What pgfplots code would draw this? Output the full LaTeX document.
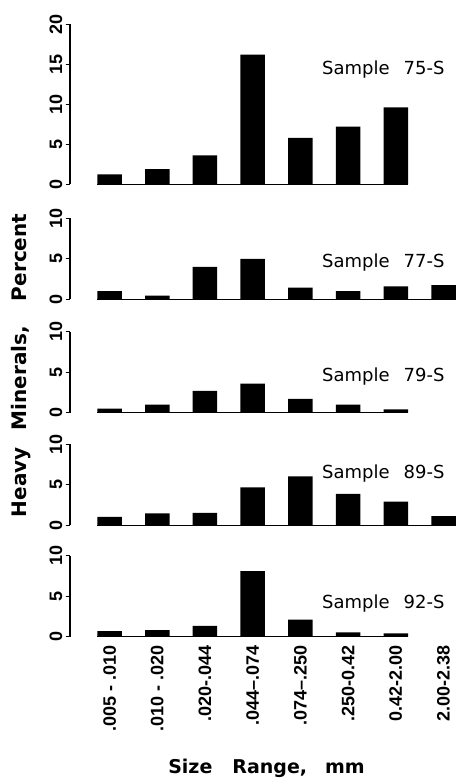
\documentclass[border=0pt]{standalone}
\usepackage{fontspec}
\setmainfont{DejaVu Sans}
\newfontfamily\tickfont{Liberation Sans}
\usepackage{pgfplots}
\pgfplotsset{compat=1.18}
\newcommand\lab[1]{{\tickfont\bfseries\fontsize{18}{18}\selectfont #1}}
\pgfplotsset{
  panel/.style={
    anchor=south west,
    x=47.7pt, xmin=-0.83, xmax=7.6, ymin=0,
    axis y line=left, axis x line=bottom,
    axis line style={-},
    y axis line style={line width=1.1pt},
    x axis line style={draw=none},
    xtick style={draw=none},
    ytick style={line width=1pt, black},
    tick align=outside,
    major tick length=4.5pt,
    clip=false,
    yticklabel={\lab{\pgfmathprintnumber[assume math mode=true]{\tick}}},
    yticklabel style={rotate=90, anchor=south, inner sep=3pt},
    xtick=\empty,
  },
  bars/.style={ybar, bar width=24.5pt, bar shift=0pt, fill=black, draw=none},
  base/.style={black, line width=1pt, mark=none},
}
\tikzset{samp/.style={anchor=base east, font=\fontsize{18}{18}\selectfont}}
\begin{document}
\begin{tikzpicture}
\useasboundingbox (0,0) rectangle (460pt,-778pt);

% Sample 75-S
\begin{axis}[panel, at={(70pt,-184.3pt)}, y=8pt, ymax=20, ytick={0,5,10,15,20}]
\addplot[base] coordinates {(-0.26,0) (6.26,0)};
\addplot[bars] coordinates {(0,1.25) (1,1.9) (2,3.6) (3,16.2) (4,5.8) (5,7.2) (6,9.6)};
\end{axis}

% Sample 77-S
\begin{axis}[panel, at={(70pt,-299.3pt)}, y=8.1pt, ymax=10, ytick={0,5,10}]
\addplot[base] coordinates {(-0.26,0) (7.26,0)};
\addplot[bars] coordinates {(0,1.0) (1,0.45) (2,4.0) (3,5.0) (4,1.45) (5,1.0) (6,1.6) (7,1.75)};
\end{axis}

% Sample 79-S
\begin{axis}[panel, at={(70pt,-412.7pt)}, y=8.1pt, ymax=10, ytick={0,5,10}]
\addplot[base] coordinates {(-0.26,0) (6.26,0)};
\addplot[bars] coordinates {(0,0.5) (1,1.0) (2,2.7) (3,3.6) (4,1.7) (5,1.0) (6,0.4)};
\end{axis}

% Sample 89-S
\begin{axis}[panel, at={(70pt,-525pt)}, y=8.1pt, ymax=10, ytick={0,5,10}]
\addplot[base] coordinates {(-0.26,0) (7.26,0)};
\addplot[bars] coordinates {(0,1.0) (1,1.45) (2,1.5) (3,4.65) (4,6.0) (5,3.85) (6,2.9) (7,1.1)};
\end{axis}

% Sample 92-S
\begin{axis}[panel, at={(70pt,-636.7pt)}, y=8.1pt, ymax=10, ytick={0,5,10},
  xtick={0,1,2,3,4,5,6,7},
  xticklabels={.005 - .010,.010 - .020,.020-.044,.044–.074,.074–.250,.250-0.42,0.42-2.00,2.00-2.38},
  xticklabel style={font=\tickfont\bfseries\fontsize{18}{18}\selectfont, rotate=90, anchor=east, inner sep=4pt}]
\addplot[base] coordinates {(-0.26,0) (6.26,0)};
\addplot[bars] coordinates {(0,0.7) (1,0.8) (2,1.35) (3,8.1) (4,2.1) (5,0.55) (6,0.4)};
\end{axis}

\node[samp] at (448pt,-74.3pt) {Sample\hspace{14pt}75-S};
\node[samp] at (448pt,-267pt) {Sample\hspace{14pt}77-S};
\node[samp] at (448pt,-381pt) {Sample\hspace{14pt}79-S};
\node[samp] at (448pt,-478pt) {Sample\hspace{14pt}89-S};
\node[samp] at (448pt,-608pt) {Sample\hspace{14pt}92-S};

\node[rotate=90, anchor=base, font=\bfseries\fontsize{20}{20}\selectfont] at (26pt,-365.5pt) {Heavy\hspace{17pt}Minerals,\hspace{25pt}Percent};
\node[anchor=base, font=\bfseries\fontsize{19}{19}\selectfont] at (266.5pt,-773pt) {Size\hspace{20pt}Range,\hspace{18pt}mm};
\end{tikzpicture}
\end{document}
